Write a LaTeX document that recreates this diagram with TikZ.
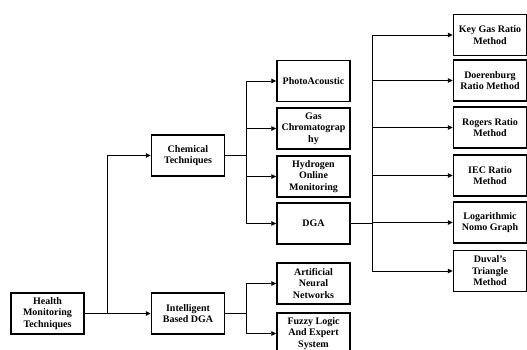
\documentclass[tikz,border=0pt]{standalone}
\usepackage{fontspec}
\setmainfont{Liberation Serif}
\usetikzlibrary{arrows.meta}
\begin{document}
\begin{tikzpicture}[
    x=1pt, y=-1pt,
    box/.style={rectangle, draw, line width=1.5pt, minimum width=73pt, minimum height=41pt, inner sep=1pt, align=center, font=\fontsize{10}{11.5}\selectfont\bfseries},
    arrow/.style={-{Triangle[length=5pt,width=4.5pt]}, line width=0.9pt},
    link/.style={line width=0.9pt}
]
\useasboundingbox (0,0) rectangle (527,349);

\node[box] (hm) at (47.5, 313.5) {Health\\Monitoring\\Techniques};
\node[box] (chem) at (188, 155.5) {Chemical\\Techniques};
\node[box] (intel) at (188, 313.5) {Intelligent\\Based DGA};

\node[box] (photo) at (313.5, 81) {PhotoAcoustic};
\node[box] (gas) at (313.5, 128.5) {Gas\\Chromatograp\\hy};
\node[box] (hyd) at (313.5, 176.5) {Hydrogen\\Online\\Monitoring};
\node[box] (dga) at (313.5, 223.5) {DGA};
\node[box] (ann) at (313.5, 283.5) {Artificial\\Neural\\Networks};
\node[box] (fuzzy) at (313.5, 333.5) {Fuzzy Logic\\And Expert\\System};

\node[box] (keygas) at (490, 35) {Key Gas Ratio\\Method};
\node[box] (doer) at (490, 80.5) {Doerenburg\\Ratio Method};
\node[box] (rogers) at (490, 127.5) {Rogers Ratio\\Method};
\node[box] (iec) at (490, 175.5) {IEC Ratio\\Method};
\node[box] (logn) at (490, 222.5) {Logarithmic\\Nomo Graph};
\node[box] (duval) at (490, 271) {Duval’s\\Triangle\\Method};

\coordinate (b1) at (107, 313.5);
\coordinate (b2) at (246, 155.5);
\coordinate (b3) at (246, 313.5);
\coordinate (b4) at (372, 223.5);

\draw[link] (hm) -- (b1);
\draw[arrow] (b1) |- (chem);
\draw[arrow] (b1) -- (intel);

\draw[link] (chem) -- (b2);
\draw[arrow] (b2) |- (photo);
\draw[arrow] (b2) |- (gas);
\draw[arrow] (b2) |- (hyd);
\draw[arrow] (b2) |- (dga);

\draw[link] (intel) -- (b3);
\draw[arrow] (b3) |- (ann);
\draw[arrow] (b3) |- (fuzzy);

\draw[link] (dga) -- (b4);
\draw[arrow] (b4) |- (keygas);
\draw[arrow] (b4) |- (doer);
\draw[arrow] (b4) |- (rogers);
\draw[arrow] (b4) |- (iec);
\draw[arrow] (b4) |- (logn);
\draw[arrow] (b4) |- (duval);

\end{tikzpicture}
\end{document}
